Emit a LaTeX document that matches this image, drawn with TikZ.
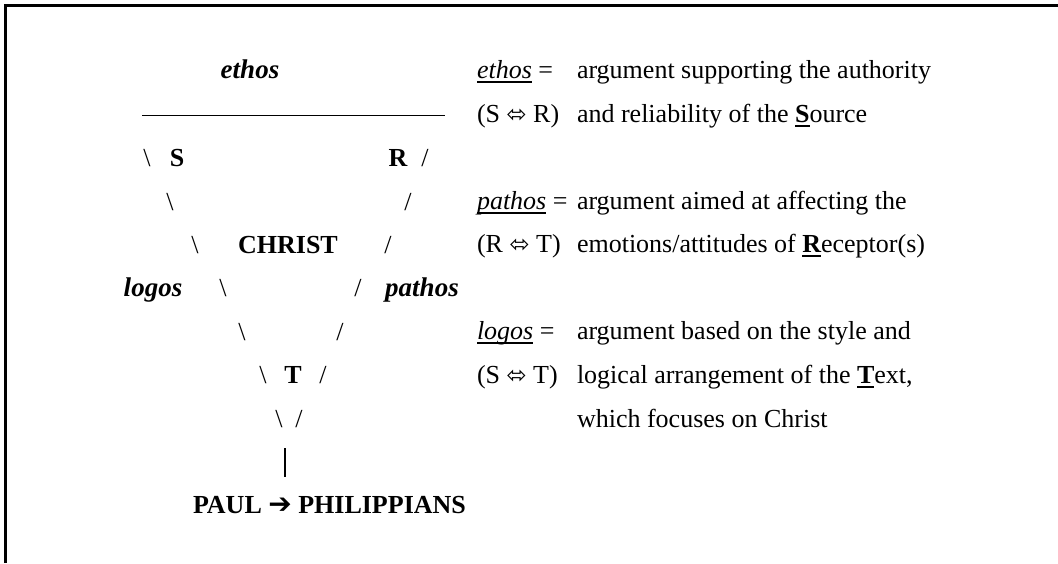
\documentclass[tikz,border=0pt]{standalone}
\usepackage{fontspec}
\setmainfont{Liberation Serif}
\newfontfamily\symfont{DejaVu Sans}
\newcommand\myul[1]{\setbox0\hbox{#1}\rlap{\rule[-4.5pt]{\wd0}{1.6pt}}\box0\relax}
\newcommand\dar{{\symfont\fontsize{24}{24}\selectfont ⬄}}
\begin{document}
\begin{tikzpicture}[x=1pt,y=-1pt,
  every node/.style={inner sep=0pt,outer sep=0pt,font=\fontsize{26}{31}\selectfont},
  lbl/.style={anchor=base},
  lft/.style={anchor=base west},
  bi/.style={anchor=base,font=\fontsize{27}{31}\selectfont\bfseries\itshape},
  bd/.style={anchor=base,font=\fontsize{26}{31}\selectfont\bfseries},
  frame/.style={line width=2.4pt},
  rulestyle/.style={line width=1.1pt}]
\useasboundingbox (0,0) rectangle (1058,563);
% frame (top and left only)
\coordinate (fl) at (5.5,563);
\coordinate (fc) at (5.5,5.5);
\coordinate (fr) at (1058,5.5);
\draw[frame] (fl) -- (fc) -- (fr);

% diagram
\node[bi] (ethosD) at (250,78) {ethos};
\coordinate (ulA) at (142,115.5);
\coordinate (ulB) at (445,115.5);
\draw[rulestyle] (ulA) -- (ulB);

\node[lbl] (b1) at (147,166) {\textbackslash};
\node[bd]  (S)  at (177,166) {S};
\node[bd]  (R)  at (398,166) {R};
\node[lbl] (f1) at (425,166) {/};

\node[lbl] (b2) at (170,210) {\textbackslash};
\node[lbl] (f2) at (408,210) {/};

\node[lbl] (b3) at (195,253) {\textbackslash};
\node[bd]  (CH) at (288,253) {CHRIST};
\node[lbl] (f3) at (388,253) {/};

\node[bi]  (logosD)  at (153,296) {logos};
\node[lbl] (b4) at (223,296) {\textbackslash};
\node[lbl] (f4) at (358,296) {/};
\node[bi]  (pathosD) at (422,296) {pathos};

\node[lbl] (b5) at (242,340) {\textbackslash};
\node[lbl] (f5) at (340,340) {/};

\node[lbl] (b6) at (263,383) {\textbackslash};
\node[bd]  (T)  at (293,383) {T};
\node[lbl] (f6) at (323,383) {/};

\node[lbl] (b7) at (279,427) {\textbackslash};
\node[lbl] (f7) at (299,427) {/};

\coordinate (barA) at (285,448);
\coordinate (barB) at (285,477);
\draw[line width=1.6pt] (barA) -- (barB);

\node[bd,anchor=base west] (paul) at (193,513) {PAUL {\symfont\bfseries\fontsize{28}{28}\selectfont ➔} PHILIPPIANS};

% right column
\node[lft] (l1) at (477,78)  {\myul{\itshape ethos} =};
\node[lft] (t1) at (577,78)  {argument supporting the authority};
\node[lft] (l2) at (477,122) {(S \dar{} R)};
\node[lft] (t2) at (577,122) {and reliability of the \myul{\bfseries S}ource};

\node[lft] (l3) at (477,209) {\myul{\itshape pathos} =};
\node[lft] (t3) at (577,209) {argument aimed at affecting the};
\node[lft] (l4) at (477,252) {(R \dar{} T)};
\node[lft] (t4) at (577,252) {emotions/attitudes of \myul{\bfseries R}eceptor(s)};

\node[lft] (l5) at (477,339) {\myul{\itshape logos} =};
\node[lft] (t5) at (577,339) {argument based on the style and};
\node[lft] (l6) at (477,383) {(S \dar{} T)};
\node[lft] (t6) at (577,383) {logical arrangement of the \myul{\bfseries T}ext,};
\node[lft] (t7) at (577,427) {which focuses on Christ};
\end{tikzpicture}
\end{document}
